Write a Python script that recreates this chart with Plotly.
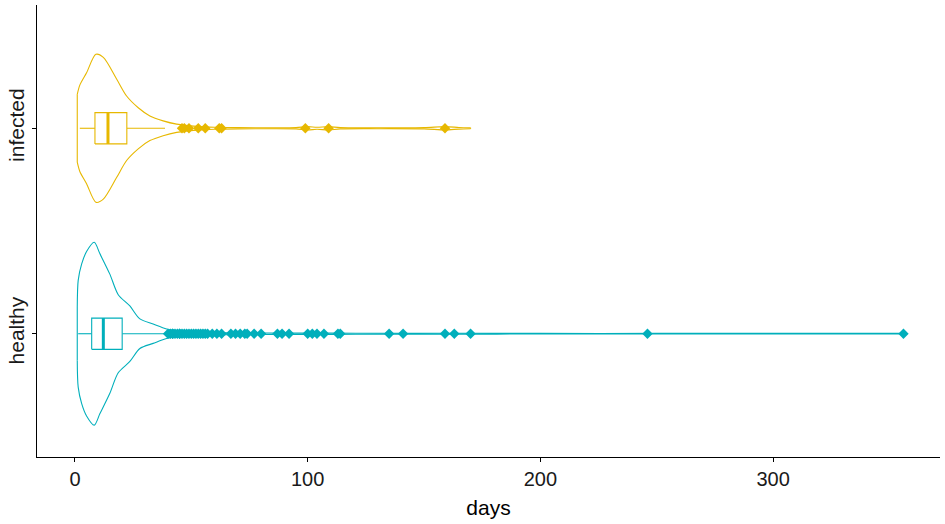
import plotly.graph_objects as go

# Groups and their positions on the value axis
groups = ["healthy", "infected"]
group_pos = [1, 2]
colors = {"healthy": "#00AFBB", "infected": "#E7B800"}

# Violin outline: density half-widths (category units) along days
healthy_days = [1.0, 1.4, 2.9, 5.0, 8.3, 10.7, 15.0, 18.6, 23.6, 27.9, 33.6, 39.4, 45,
                50, 55, 65, 75, 90, 110, 130, 160, 200, 250, 300, 356]
healthy_hw = [0.13, 0.26, 0.34, 0.40, 0.445, 0.39, 0.29, 0.19, 0.135, 0.072, 0.047, 0.023, 0.013,
              0.009, 0.007, 0.005, 0.004, 0.003, 0.003, 0.002, 0.002, 0.0015, 0.0015, 0.0015, 0.0015]

infected_days = [1.0, 2.1, 5.0, 9.0, 12.2, 17.9, 22.2, 27.2, 32.2, 37.9, 43.7, 52.3,
                 60, 70, 85, 95, 100, 104, 109, 114, 130, 150, 159, 165, 170]
infected_hw = [0.165, 0.21, 0.27, 0.36, 0.345, 0.24, 0.157, 0.10, 0.060, 0.036, 0.020, 0.009,
               0.005, 0.003, 0.002, 0.003, 0.008, 0.005, 0.008, 0.003, 0.002, 0.003, 0.008, 0.004, 0.002]

# Box statistics (days)
box_q1 = {"healthy": 7.2, "infected": 8.6}
box_median = {"healthy": 12.2, "infected": 14.2}
box_q3 = {"healthy": 20.3, "infected": 22.3}
box_lo = {"healthy": 1.4, "infected": 2.1}
box_hi = {"healthy": 39.4, "infected": 38.7}

# Outlying observations (days)
healthy_out = [40, 41, 42, 42, 43, 44, 45, 45, 46, 47, 48, 49, 50, 51, 52, 53, 54, 55, 56, 57,
               59, 61, 63, 67, 69, 71, 73, 74, 77, 80, 87, 89, 92, 100, 102, 104, 107, 113, 114,
               135, 141, 159, 163, 170, 246, 356]
infected_out = [46, 47, 49, 53, 56, 62, 63, 99, 109, 159]

violins = {"healthy": (healthy_days, healthy_hw), "infected": (infected_days, infected_hw)}
outliers = {"healthy": healthy_out, "infected": infected_out}

BOX_HALF = 0.076
fig = go.Figure()

for g, pos in zip(groups, group_pos):
    c = colors[g]
    days, hw = violins[g]
    # violin: upper edge, lower edge, and the straight cut at the minimum
    fig.add_trace(go.Scatter(x=days, y=[pos + h for h in hw], mode="lines",
                             line=dict(color=c, width=1.1, shape="spline", smoothing=0.8),
                             hoverinfo="skip", showlegend=False))
    fig.add_trace(go.Scatter(x=days, y=[pos - h for h in hw], mode="lines",
                             line=dict(color=c, width=1.1, shape="spline", smoothing=0.8),
                             hoverinfo="skip", showlegend=False))
    fig.add_trace(go.Scatter(x=[days[0], days[0]], y=[pos - hw[0], pos + hw[0]], mode="lines",
                             line=dict(color=c, width=1.1), hoverinfo="skip", showlegend=False))
    fig.add_trace(go.Scatter(x=[days[-1], days[-1]], y=[pos - hw[-1], pos + hw[-1]], mode="lines",
                             line=dict(color=c, width=1.1), hoverinfo="skip", showlegend=False))
    # whiskers
    fig.add_trace(go.Scatter(x=[box_lo[g], box_q1[g], None, box_q3[g], box_hi[g]],
                             y=[pos, pos, None, pos, pos], mode="lines",
                             line=dict(color=c, width=1.1), hoverinfo="skip", showlegend=False))
    # box
    fig.add_trace(go.Scatter(x=[box_q1[g], box_q3[g], box_q3[g], box_q1[g], box_q1[g]],
                             y=[pos - BOX_HALF, pos - BOX_HALF, pos + BOX_HALF, pos + BOX_HALF,
                                pos - BOX_HALF],
                             mode="lines", line=dict(color=c, width=1.1), fill="toself",
                             fillcolor="white", hoverinfo="skip", showlegend=False))
    # median
    fig.add_trace(go.Scatter(x=[box_median[g], box_median[g]],
                             y=[pos - BOX_HALF, pos + BOX_HALF],
                             mode="lines", line=dict(color=c, width=3),
                             hoverinfo="skip", showlegend=False))
    # outliers
    fig.add_trace(go.Scatter(x=outliers[g], y=[pos] * len(outliers[g]), mode="markers",
                             marker=dict(symbol="diamond", size=8, color=c),
                             showlegend=False))

font = "Liberation Sans, Arial, sans-serif"
fig.update_layout(
    width=945, height=524,
    margin=dict(l=37, r=5, t=5, b=67, autoexpand=False),
    plot_bgcolor="white", paper_bgcolor="white",
    font=dict(family=font, color="black", size=20),
    xaxis=dict(range=[-16.3, 371.7], tickvals=[0, 100, 200, 300], showgrid=False,
               zeroline=False, showline=True, linecolor="black", linewidth=1.2,
               ticks="outside", ticklen=4, tickcolor="black", automargin=False,
               tickfont=dict(size=20, color="#1a1a1a"),
               title=dict(text="days", font=dict(size=21), standoff=11)),
    yaxis=dict(range=[0.4, 2.6], tickvals=group_pos, ticktext=groups, showgrid=False,
               zeroline=False, showline=True, linecolor="black", linewidth=1.2,
               ticks="outside", ticklen=4, tickcolor="black", tickangle=-90,
               automargin=False, tickfont=dict(size=21, color="#1a1a1a")),
)

fig.write_html("out.html")
